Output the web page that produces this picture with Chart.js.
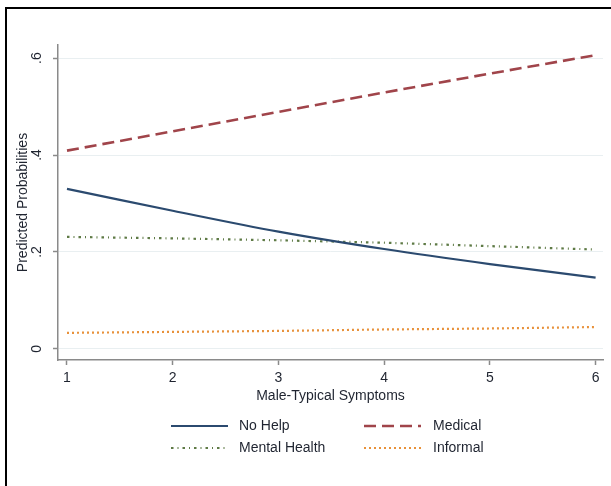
<!DOCTYPE html>
<html>
<head>
<meta charset="utf-8">
<script src="https://cdn.jsdelivr.net/npm/chart.js@4/dist/chart.umd.min.js"></script>
<style>
  html, body { margin: 0; padding: 0; background: #fff; }
  #wrap { position: relative; width: 611px; height: 486px; }
  #frame { position: absolute; left: 5px; top: 7px; right: 0; bottom: 0;
           border-left: 2px solid #000; border-top: 2px solid #000; pointer-events: none; }
  canvas { position: absolute; left: 0; top: 0; }
</style>
</head>
<body>
<div id="wrap">
  <canvas id="c" width="611" height="486"></canvas>
  <div id="frame"></div>
</div>
<script>
// Number of male-typical symptoms (x) and predicted probability per help-seeking outcome
const symptoms = [1, 2, 3, 4, 5, 6];
const noHelp = [0.330, 0.285, 0.242, 0.206, 0.175, 0.147];
const medical = [0.409, 0.449, 0.489, 0.529, 0.568, 0.606];
const mentalHealth = [0.231, 0.228, 0.224, 0.219, 0.212, 0.205];
const informal = [0.033, 0.035, 0.037, 0.040, 0.042, 0.045];

const xTicks = [1, 2, 3, 4, 5, 6];
const yTicks = [0, 0.2, 0.4, 0.6];
const yTickLabels = ['0', '.2', '.4', '.6'];

const seriesNames = ['No Help', 'Medical', 'Mental Health', 'Informal'];

const FONT = '"Liberation Sans", Arial, Helvetica, sans-serif';
const TEXT = '#1f2430';

function pts(vals) { return symptoms.map((x, i) => ({ x: x, y: vals[i] })); }

const datasets = [
  { label: seriesNames[0], data: pts(noHelp), borderColor: '#2b4a6f', borderWidth: 2.2,
    borderDash: [], tension: 0.35 },
  { label: seriesNames[1], data: pts(medical), borderColor: '#a0444a', borderWidth: 2.6,
    borderDash: [12, 6], tension: 0 },
  { label: seriesNames[2], data: pts(mentalHealth), borderColor: '#5e7a45', borderWidth: 2.2,
    borderDash: [2.5, 4, 1, 4], tension: 0 },
  { label: seriesNames[3], data: pts(informal), borderColor: '#e8913a', borderWidth: 2.2,
    borderDash: [2, 3], tension: 0 }
];
datasets.forEach(d => { d.pointRadius = 0; d.fill = false; d.borderCapStyle = 'butt'; });

// Rotated y labels, axis titles and the two-column legend
const decorations = {
  id: 'decorations',
  afterDraw(chart) {
    const ctx = chart.ctx;
    const ca = chart.chartArea;
    const ys = chart.scales.y;
    ctx.save();
    ctx.fillStyle = TEXT;
    ctx.font = '14px ' + FONT;
    ctx.textAlign = 'center';
    ctx.textBaseline = 'middle';
    // y tick labels, reading bottom to top
    yTicks.forEach((v, i) => {
      const py = ys.getPixelForValue(v);
      ctx.save();
      ctx.translate(37, py);
      ctx.rotate(-Math.PI / 2);
      ctx.fillText(yTickLabels[i], 0, 0);
      ctx.restore();
    });
    // y title
    ctx.save();
    ctx.translate(23, (ca.top + ca.bottom) / 2);
    ctx.rotate(-Math.PI / 2);
    ctx.fillText('Predicted Probabilities', 0, 0);
    ctx.restore();
    // x title
    ctx.fillText('Male-Typical Symptoms', (ca.left + ca.right) / 2, 396);

    // legend
    const cols = [{ lx: 171, tx: 239 }, { lx: 364, tx: 433 }];
    const rows = [426, 448];
    const lineLen = 57;
    chart.data.datasets.forEach((d, i) => {
      const c = cols[i % 2], y = rows[Math.floor(i / 2)];
      ctx.save();
      ctx.strokeStyle = d.borderColor;
      ctx.lineWidth = d.borderWidth;
      ctx.setLineDash(d.borderDash);
      ctx.beginPath();
      ctx.moveTo(c.lx, y);
      ctx.lineTo(c.lx + lineLen, y);
      ctx.stroke();
      ctx.restore();
      ctx.textAlign = 'left';
      ctx.fillText(d.label, c.tx, y);
    });
    ctx.restore();
  }
};

new Chart(document.getElementById('c'), {
  type: 'line',
  data: { datasets: datasets },
  options: {
    responsive: false,
    animation: false,
    layout: { padding: { left: 0, top: 45, right: 8, bottom: 66 } },
    plugins: { legend: { display: false }, tooltip: { enabled: false } },
    scales: {
      x: {
        type: 'linear',
        min: 0.915, max: 6.07,
        afterBuildTicks: s => { s.ticks = xTicks.map(v => ({ value: v })); },
        afterFit: s => { s.height = 60; },
        grid: { drawOnChartArea: false, tickLength: 5, tickColor: '#8a8a8a', tickWidth: 1.5 },
        border: { display: true, color: '#8a8a8a', width: 1.5 },
        ticks: { color: TEXT, font: { family: FONT, size: 14 }, padding: 5, maxRotation: 0, autoSkip: false }
      },
      y: {
        type: 'linear',
        min: -0.023, max: 0.627,
        afterBuildTicks: s => { s.ticks = yTicks.map(v => ({ value: v })); },
        afterFit: s => { s.width = 58; },
        grid: { color: '#e9eff1', lineWidth: 1, tickLength: 5, tickColor: '#8a8a8a', tickWidth: 1.5 },
        border: { display: true, color: '#8a8a8a', width: 1.5 },
        ticks: { color: 'rgba(0,0,0,0)', font: { family: FONT, size: 14 } }
      }
    }
  },
  plugins: [decorations]
});
</script>
</body>
</html>
